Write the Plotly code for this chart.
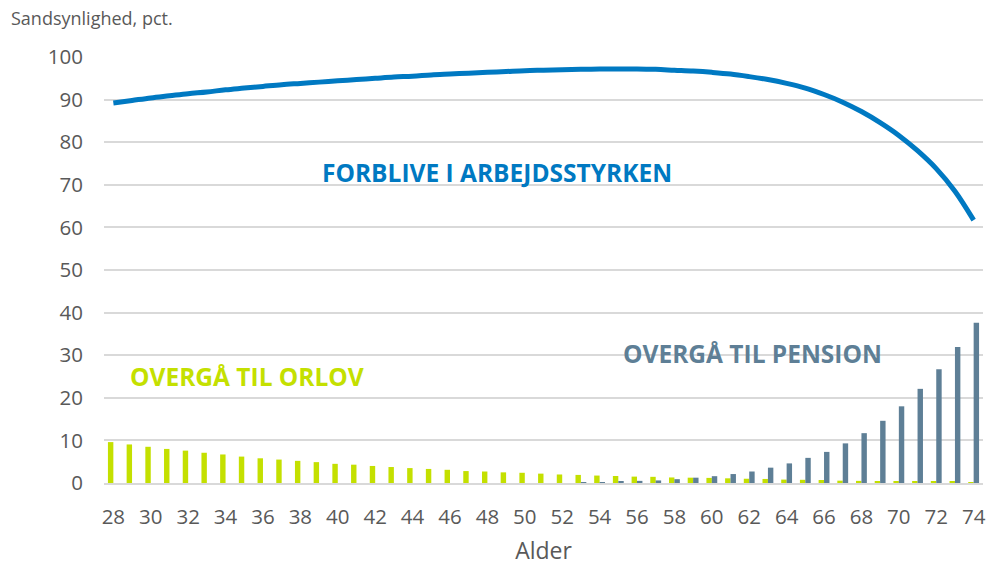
import plotly.graph_objects as go

ages = list(range(28, 75))

forblive = [89.2, 89.8, 90.4, 90.9, 91.4, 91.8, 92.3, 92.7, 93.1, 93.5,
            93.8, 94.1, 94.4, 94.7, 95.0, 95.3, 95.5, 95.8, 96.0, 96.2,
            96.4, 96.6, 96.8, 96.9, 97.0, 97.1, 97.2, 97.2, 97.2, 97.1,
            96.9, 96.7, 96.4, 96.0, 95.4, 94.7, 93.8, 92.7, 91.2, 89.4,
            87.2, 84.6, 81.6, 78.0, 73.8, 68.5, 61.7]

orlov = [9.6, 9.05, 8.5, 8.0, 7.6, 7.1, 6.7, 6.2, 5.8, 5.5,
         5.2, 4.9, 4.5, 4.3, 4.0, 3.75, 3.5, 3.3, 3.1, 2.8,
         2.7, 2.5, 2.4, 2.2, 2.0, 1.9, 1.75, 1.65, 1.5, 1.45,
         1.3, 1.25, 1.2, 1.1, 1.0, 0.95, 0.8, 0.75, 0.7, 0.55,
         0.5, 0.45, 0.4, 0.3, 0.3, 0.25, 0.15]

pension = [0.0, 0.0, 0.0, 0.0, 0.0, 0.0, 0.0, 0.0, 0.0, 0.0,
           0.0, 0.0, 0.0, 0.0, 0.0, 0.0, 0.0, 0.0, 0.0, 0.0,
           0.0, 0.0, 0.0, 0.0, 0.0, 0.1, 0.2, 0.3, 0.5, 0.6,
           0.9, 1.25, 1.6, 2.1, 2.7, 3.6, 4.6, 5.9, 7.3, 9.3,
           11.7, 14.6, 18.0, 22.1, 26.7, 31.9, 37.6]

y_ticks = list(range(0, 101, 10))
x_ticks = list(range(28, 75, 2))

C_LINE = "#0079C2"
C_GREEN = "#C4E000"
C_SLATE = "#5E7F96"
C_TEXT = "#595959"
FONT = "Open Sans"

fig = go.Figure()
fig.add_trace(go.Bar(x=ages, y=orlov, marker=dict(color=C_GREEN, line=dict(width=0)),
                     name="Overgå til orlov"))
fig.add_trace(go.Bar(x=ages, y=pension, marker=dict(color=C_SLATE, line=dict(width=0)),
                     name="Overgå til pension"))
fig.add_trace(go.Scatter(x=ages, y=forblive, mode="lines",
                         line=dict(color=C_LINE, width=5, shape="spline"),
                         name="Forblive i arbejdsstyrken"))

fig.update_layout(
    width=994, height=567,
    margin=dict(l=104, r=11, t=57, b=84, autoexpand=False),
    paper_bgcolor="white", plot_bgcolor="white",
    barmode="group", bargap=0.42, bargroupgap=0,
    showlegend=False,
    font=dict(family=FONT, color=C_TEXT, size=20),
    xaxis=dict(range=[27.5, 74.5], tickvals=x_ticks, ticktext=[str(v) for v in x_ticks],
               showgrid=False, zeroline=False, showline=True, linecolor="#D9D9D9", linewidth=2,
               ticks="", ticklabelstandoff=14, tickfont=dict(size=20.5, color=C_TEXT),
               automargin=False,
               title=dict(text="Alder", font=dict(size=23, color=C_TEXT), standoff=14)),
    yaxis=dict(range=[0, 100], tickvals=y_ticks, showgrid=True, gridcolor="#D9D9D9", gridwidth=1.5,
               zeroline=False, ticks="", ticklabelstandoff=20, automargin=False,
               tickfont=dict(size=20.5, color=C_TEXT)),
    annotations=[
        dict(text="Sandsynlighed, pct.", xref="paper", yref="paper", x=-104/879, y=1 + 39/426,
             xanchor="left", yanchor="middle", showarrow=False, xshift=9,
             font=dict(size=18, color=C_TEXT, family=FONT)),
        dict(text="<b>FORBLIVE I ARBEJDSSTYRKEN</b>", x=48.5, y=73, xref="x", yref="y",
             showarrow=False, font=dict(size=24.5, color=C_LINE, family=FONT)),
        dict(text="<b>OVERGÅ TIL ORLOV</b>", x=35.17, y=25, xref="x", yref="y",
             showarrow=False, font=dict(size=24.5, color=C_GREEN, family=FONT)),
        dict(text="<b>OVERGÅ TIL PENSION</b>", x=62.2, y=30.3, xref="x", yref="y",
             showarrow=False, font=dict(size=24.5, color=C_SLATE, family=FONT)),
    ],
)

fig.write_html("out.html", config={"displayModeBar": False},
               post_script="document.body.style.margin='0';")
